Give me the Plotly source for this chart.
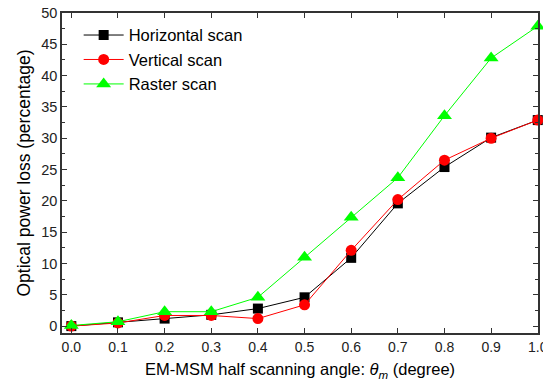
import plotly.graph_objects as go

angles = [0.0, 0.1, 0.2, 0.3, 0.4, 0.5, 0.6, 0.7, 0.8, 0.9, 1.0]
horizontal = [0.0, 0.6, 1.2, 1.8, 2.8, 4.6, 10.9, 19.6, 25.4, 30.1, 32.9]
vertical = [0.0, 0.5, 1.7, 1.7, 1.2, 3.4, 12.1, 20.2, 26.5, 30.0, 32.9]
raster = [0.1, 0.7, 2.3, 2.3, 4.6, 11.0, 17.4, 23.7, 33.6, 42.8, 47.9]
x_ticks = [0.0, 0.1, 0.2, 0.3, 0.4, 0.5, 0.6, 0.7, 0.8, 0.9, 1.0]
x_tick_labels = ["0.0", "0.1", "0.2", "0.3", "0.4", "0.5", "0.6", "0.7", "0.8", "0.9", "1.0"]
y_ticks = [0, 5, 10, 15, 20, 25, 30, 35, 40, 45, 50]

fig = go.Figure()
fig.add_trace(go.Scatter(x=angles, y=horizontal, name="Horizontal scan", mode="lines+markers",
                         line=dict(color="black", width=1), cliponaxis=False,
                         marker=dict(symbol="square", size=10, color="black")))
fig.add_trace(go.Scatter(x=angles, y=vertical, name="Vertical scan", mode="lines+markers",
                         line=dict(color="red", width=1), cliponaxis=False,
                         marker=dict(symbol="circle", size=11, color="red")))
fig.add_trace(go.Scatter(x=angles, y=raster, name="Raster scan", mode="lines+markers",
                         line=dict(color="#00ff00", width=1), cliponaxis=False,
                         marker=dict(symbol="triangle-up", size=13, color="#00ff00")))

font = "Liberation Sans, Arial, sans-serif"
fig.update_layout(
    width=543, height=390,
    margin=dict(l=62, r=5, t=13, b=57),
    paper_bgcolor="white", plot_bgcolor="white",
    font=dict(family=font, color="black", size=14),
    showlegend=True,
    legend=dict(x=0.035, y=0.985, xanchor="left", yanchor="top",
                font=dict(size=16.5, family=font), bgcolor="rgba(0,0,0,0)",
                tracegroupgap=0, itemwidth=40),
    xaxis=dict(range=[-0.02, 1.0005], tickvals=x_ticks, ticktext=x_tick_labels,
               ticks="inside", ticklen=5, tickwidth=1, tickcolor="#333",
               showline=True, linecolor="#333", linewidth=1.5, mirror="allticks",
               showgrid=False, zeroline=False, ticklabeloverflow="allow",
               automargin=False,
               tickfont=dict(size=14, color="#222"),
               title=dict(text="EM-MSM half scanning angle: <i>θ<sub>m</sub></i> (degree)",
                          font=dict(size=16.5), standoff=10)),
    yaxis=dict(range=[-1.1, 50], tickvals=y_ticks,
               ticks="inside", ticklen=5, tickwidth=1, tickcolor="#333",
               showline=True, linecolor="#333", linewidth=1.5, mirror="allticks",
               showgrid=False, zeroline=False, ticklabeloverflow="allow",
               automargin=False,
               tickfont=dict(size=14.5, color="#222"),
               minor=dict(tickvals=[2.5, 7.5, 12.5, 17.5, 22.5, 27.5, 32.5, 37.5, 42.5, 47.5],
                          ticks="inside", ticklen=3, tickcolor="#333"),
               title=dict(text="Optical power loss (percentage)", font=dict(size=17.5), standoff=6)),
)

fig.write_html("out.html")
